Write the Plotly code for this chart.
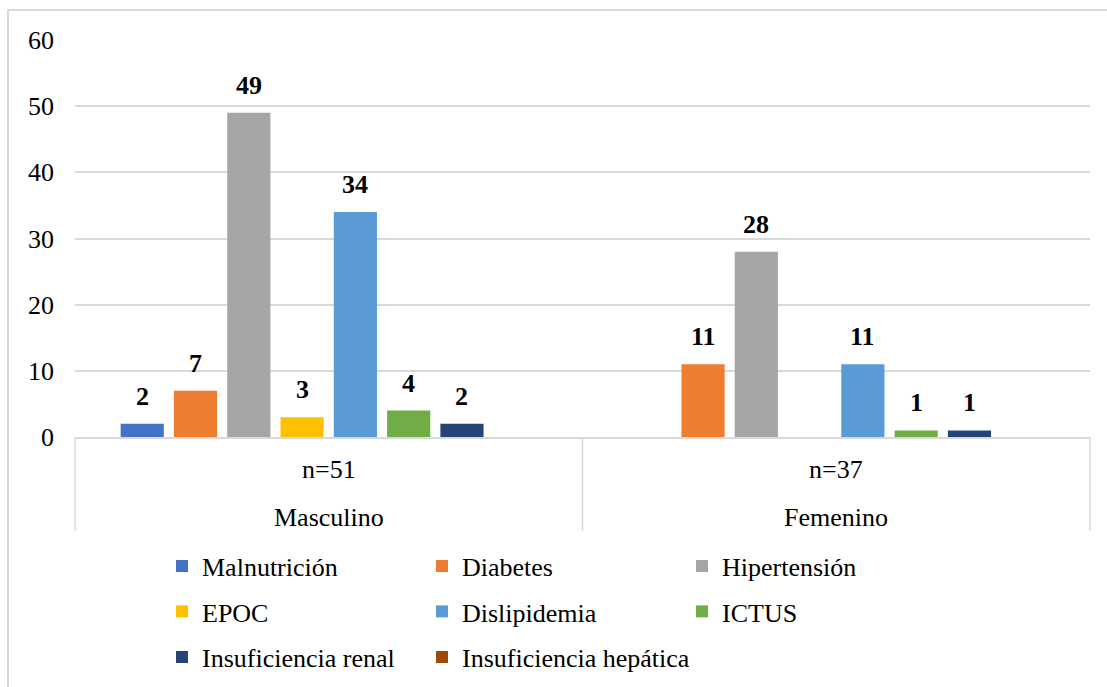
import plotly.graph_objects as go

# ---- data ----
groups = ["Masculino", "Femenino"]
sample_sizes = ["n=51", "n=37"]
series_names = ["Malnutrición", "Diabetes", "Hipertensión", "EPOC",
                "Dislipidemia", "ICTUS", "Insuficiencia renal", "Insuficiencia hepática"]
malnutricion = [2, None]
diabetes = [7, 11]
hipertension = [49, 28]
epoc = [3, None]
dislipidemia = [34, 11]
ictus = [4, 1]
insuf_renal = [2, 1]
insuf_hepatica = [None, None]
y_ticks = [0, 10, 20, 30, 40, 50, 60]

series_values = [malnutricion, diabetes, hipertension, epoc,
                 dislipidemia, ictus, insuf_renal, insuf_hepatica]
colors = ["#4472C4", "#ED7D31", "#A5A5A5", "#FFC000",
          "#5B9BD5", "#70AD47", "#264478", "#9E480E"]
legend_rows = ["legend", "legend", "legend", "legend2",
               "legend2", "legend2", "legend3", "legend4"]

# ---- layout constants ----
W, H = 1107, 687
ML, MR, MT, MB = 75, 17, 40, 250
plot_w = W - ML - MR
plot_h = H - MT - MB
BARGAP = 0.16
BARGROUPGAP = 0.19
FONT = "Liberation Serif"
GRID = "#d9d9d9"

def py(px):
    """pixel y (from top) -> paper y"""
    return (H - MB - px) / plot_h

def pxx(px):
    return (px - ML) / plot_w

fig = go.Figure()
for name, vals, col, lg in zip(series_names, series_values, colors, legend_rows):
    fig.add_trace(go.Bar(
        x=groups, y=vals, name=name, marker=dict(color=col, line=dict(width=0)),
        legend=lg, hoverinfo="x+y+name",
    ))

# data labels
slot = plot_w / len(groups) * (1 - BARGAP) / len(series_names)
annotations = []
n = len(series_names)
for i, vals in enumerate(series_values):
    for g, v in zip(groups, vals):
        if v is None:
            continue
        annotations.append(dict(
            x=g, y=v, xref="x", yref="y", text=f"<b>{v}</b>", showarrow=False,
            xshift=(i - (n - 1) / 2) * slot, yshift=11, yanchor="bottom",
            font=dict(family=FONT, size=26, color="black"),
        ))

# two-level category labels
for g, s in zip(groups, sample_sizes):
    annotations.append(dict(x=g, y=py(469), xref="x", yref="paper", text=s,
                            showarrow=False, yanchor="middle",
                            font=dict(family=FONT, size=26, color="black")))
    annotations.append(dict(x=g, y=py(517), xref="x", yref="paper", text=g,
                            showarrow=False, yanchor="middle",
                            font=dict(family=FONT, size=26, color="black")))

shapes = []
for xp in [0, 0.5, 1]:
    shapes.append(dict(type="line", xref="paper", yref="paper",
                       x0=xp, x1=xp, y0=0, y1=py(531),
                       line=dict(color=GRID, width=1.5)))
# outer chart border
shapes.append(dict(type="rect", xref="paper", yref="paper",
                   x0=pxx(8), x1=pxx(1125), y0=py(720), y1=py(10),
                   line=dict(color=GRID, width=2), layer="below"))

def leg(x, y, ew):
    d = dict(orientation="h", xanchor="left", yanchor="middle",
             x=pxx(x), y=py(y),
             font=dict(family=FONT, size=26, color="black"),
             bgcolor="rgba(0,0,0,0)", traceorder="normal")
    if ew:
        d.update(entrywidth=ew, entrywidthmode="pixels")
    return d

LEG_X0 = 162
fig.update_layout(
    width=W, height=H,
    margin=dict(l=ML, r=MR, t=MT, b=MB, autoexpand=False),
    paper_bgcolor="white", plot_bgcolor="white",
    barmode="group", bargap=BARGAP, bargroupgap=BARGROUPGAP,
    font=dict(family=FONT, color="black"),
    xaxis=dict(type="category", showticklabels=False, showgrid=False,
               showline=True, linecolor=GRID, linewidth=1.5, ticks="",
               range=[-0.5, 1.5], fixedrange=True, automargin=False),
    yaxis=dict(range=[0, 60], tickvals=y_ticks, showgrid=True, gridcolor=GRID,
               gridwidth=1.5, zeroline=False, showline=False, ticks="",
               tickfont=dict(family=FONT, size=26, color="black"),
               ticklabelstandoff=20, fixedrange=True, automargin=False),
    annotations=annotations,
    shapes=shapes,
    showlegend=True,
    legend=leg(LEG_X0, 566, 215),
    legend2=leg(LEG_X0, 611.5, 215),
    legend3=leg(LEG_X0, 657, 0),
    legend4=leg(LEG_X0 + 260, 657, 0),
)

fig.write_html("out.html", config={"displayModeBar": False},
               post_script="document.body.style.margin='0px';")
